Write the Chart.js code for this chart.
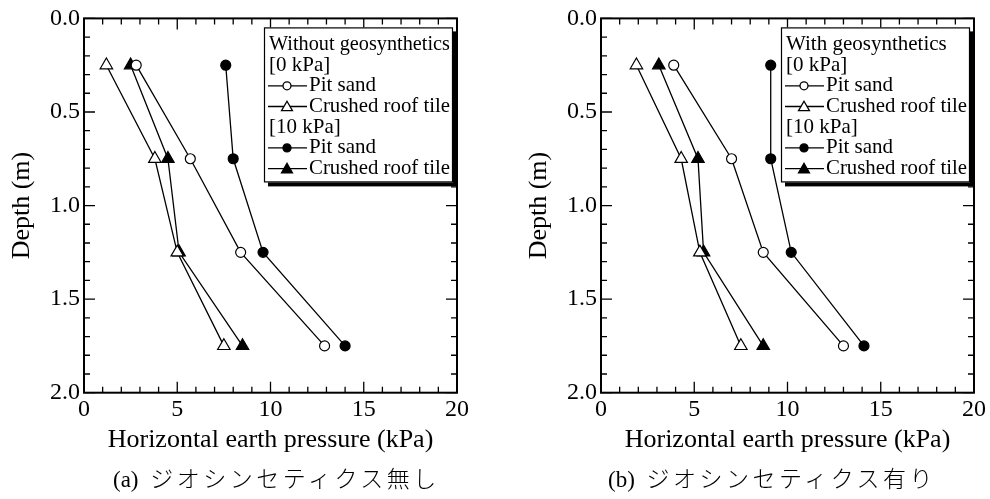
<!DOCTYPE html>
<html lang="ja">
<head>
<meta charset="UTF-8">
<title>Horizontal earth pressure vs depth</title>
<script src="https://cdn.jsdelivr.net/npm/chart.js@4"></script>
<style>
    body { margin: 0; background: #fff; }
    #page { position: relative; width: 990px; height: 499px; overflow: hidden; }
    .panel { position: absolute; top: 0; }
    .caption {
        position: absolute;
        top: 464px;
        font-family: "Liberation Serif", serif;
        font-size: 23px;
        line-height: 26px;
        white-space: nowrap;
        color: #000;
    }
    .caption .jp {
        font-family: "Noto Sans CJK JP", sans-serif;
        font-weight: 300;
        font-size: 23px;
        letter-spacing: 3.5px;
        margin-left: 6px;
    }
</style>
</head>
<body>
<div id="page">
    <canvas id="chartA" class="panel" width="473" height="499" style="left:0"></canvas>
    <canvas id="chartB" class="panel" width="473" height="499" style="left:517px"></canvas>
    <div class="caption" style="left:113px">(a) <span class="jp">ジオシンセティクス無し</span></div>
    <div class="caption" style="left:608px">(b) <span class="jp">ジオシンセティクス有り</span></div>
</div>
<script>
// depths of the measuring points (m)
const depths = [0.25, 0.75, 1.25, 1.75];

// horizontal earth pressure (kPa) - without geosynthetics
const noGeoPit0 = [2.8, 5.7, 8.4, 12.9];
const noGeoTile0 = [1.2, 3.8, 5.0, 7.5];
const noGeoPit10 = [7.6, 8.0, 9.6, 14.0];
const noGeoTile10 = [2.5, 4.5, 5.1, 8.5];

// with geosynthetics
const geoPit0 = [3.9, 7.0, 8.7, 13.0];
const geoTile0 = [1.9, 4.3, 5.3, 7.5];
const geoPit10 = [9.1, 9.1, 10.2, 14.1];
const geoTile10 = [3.1, 5.2, 5.5, 8.7];

const materials = ['Pit sand', 'Crushed roof tile'];
const loads = ['[0 kPa]', '[10 kPa]'];
const xRange = [0, 20], xStep = 5, xMinor = 1;
const yRange = [0, 2], yStep = 0.5, yMinor = 0.1;

Chart.defaults.font.family = "'Liberation Serif', 'Times New Roman', serif";
Chart.defaults.color = '#000';

function pts(xs) {
    return xs.map((v, i) => ({ x: v, y: depths[i] }));
}

function series(label, xs, shape, filled) {
    return {
        label: label,
        data: pts(xs),
        showLine: true,
        borderColor: '#000',
        borderWidth: 1.3,
        pointStyle: shape,
        pointRadius: shape === 'circle' ? 5 : 7.2,
        pointBorderWidth: 1.2,
        pointBorderColor: '#000',
        pointBackgroundColor: filled ? '#000' : '#fff'
    };
}

// frame + inward ticks on all four sides
const framePlugin = {
    id: 'frame',
    afterDatasetsDraw(chart) {
        const { ctx, chartArea: a, scales: { x, y } } = chart;
        ctx.save();
        ctx.strokeStyle = '#000';
        ctx.lineWidth = 1.3;
        ctx.beginPath();
        const nx = Math.round((xRange[1] - xRange[0]) / xMinor);
        for (let i = 0; i <= nx; i++) {
            const v = xRange[0] + i * xMinor;
            const px = x.getPixelForValue(v);
            const len = i % Math.round(xStep / xMinor) === 0 ? 11 : 6;
            ctx.moveTo(px, a.bottom); ctx.lineTo(px, a.bottom - len);
            ctx.moveTo(px, a.top); ctx.lineTo(px, a.top + len);
        }
        const ny = Math.round((yRange[1] - yRange[0]) / yMinor);
        for (let i = 0; i <= ny; i++) {
            const v = yRange[0] + i * yMinor;
            const py = y.getPixelForValue(v);
            const len = i % Math.round(yStep / yMinor) === 0 ? 11 : 6;
            ctx.moveTo(a.left, py); ctx.lineTo(a.left + len, py);
            ctx.moveTo(a.right, py); ctx.lineTo(a.right - len, py);
        }
        ctx.stroke();
        ctx.lineWidth = 2;
        ctx.strokeRect(a.left, a.top, a.right - a.left, a.bottom - a.top);
        ctx.restore();
    }
};

function marker(ctx, shape, filled, x, y, r) {
    ctx.beginPath();
    if (shape === 'circle') {
        ctx.arc(x, y, r, 0, Math.PI * 2);
    } else {
        ctx.moveTo(x, y - r);
        ctx.lineTo(x + r * Math.sin(Math.PI / 3), y + r / 2);
        ctx.lineTo(x - r * Math.sin(Math.PI / 3), y + r / 2);
        ctx.closePath();
    }
    ctx.fillStyle = filled ? '#000' : '#fff';
    ctx.fill();
    ctx.stroke();
}

// boxed legend with drop shadow, inside the plot
const boxLegend = {
    id: 'boxLegend',
    afterDraw(chart, args, opts) {
        const { ctx, chartArea: a } = chart;
        const left = a.left + 180, top = a.top + 9;
        const right = a.right - 4, bottom = a.top + 164;
        ctx.save();
        ctx.fillStyle = '#000';
        ctx.fillRect(left + 4, top + 4, right - left, bottom - top);
        ctx.fillStyle = '#fff';
        ctx.fillRect(left, top, right - left, bottom - top);
        ctx.strokeStyle = '#000';
        ctx.lineWidth = 1.2;
        ctx.strokeRect(left + 0.5, top + 0.5, right - left - 1, bottom - top - 1);

        ctx.font = "21px 'Liberation Serif'";
        ctx.textBaseline = 'middle';
        const step = 20.7;
        let row = top + 17;
        const ds = chart.data.datasets;
        const rows = [
            { text: opts.title },
            { text: loads[0] }, { ds: ds[0] }, { ds: ds[1] },
            { text: loads[1] }, { ds: ds[2] }, { ds: ds[3] }
        ];
        rows.forEach(r => {
            ctx.fillStyle = '#000';
            if (r.text) {
                ctx.fillText(r.text, left + 5, row, right - left - 8);
            } else {
                ctx.lineWidth = 1.3;
                ctx.beginPath();
                ctx.moveTo(left + 4, row);
                ctx.lineTo(left + 43, row);
                ctx.stroke();
                const isCircle = r.ds.pointStyle === 'circle';
                marker(ctx, r.ds.pointStyle, r.ds.pointBackgroundColor === '#000',
                       left + 23, row + (isCircle ? 0 : 1), isCircle ? 4 : 6.3);
                ctx.fillStyle = '#000';
                ctx.fillText(r.ds.label, left + 45, row, right - left - 48);
            }
            row += step;
        });
        ctx.restore();
    }
};

function makeChart(id, title, pit0, tile0, pit10, tile10) {
    return new Chart(document.getElementById(id), {
        type: 'scatter',
        data: {
            datasets: [
                series(materials[0], pit0, 'circle', false),
                series(materials[1], tile0, 'triangle', false),
                series(materials[0], pit10, 'circle', true),
                series(materials[1], tile10, 'triangle', true)
            ]
        },
        options: {
            responsive: false,
            animation: false,
            layout: { padding: { left: 0, right: 16, top: 18, bottom: 0 } },
            plugins: {
                legend: { display: false },
                tooltip: { enabled: false },
                boxLegend: { title: title }
            },
            scales: {
                x: {
                    type: 'linear',
                    min: xRange[0], max: xRange[1],
                    ticks: { stepSize: xStep, padding: 3, maxRotation: 0, font: { size: 24 } },
                    grid: { display: false, drawTicks: false },
                    border: { display: false },
                    title: {
                        display: true,
                        text: 'Horizontal earth pressure (kPa)',
                        font: { size: 26 },
                        padding: { top: 0, bottom: 43 }
                    },
                    afterFit: s => { s.height = 106.3; }
                },
                y: {
                    type: 'linear',
                    reverse: true,
                    min: yRange[0], max: yRange[1],
                    ticks: { stepSize: yStep, padding: 4, font: { size: 24 }, callback: v => v.toFixed(1) },
                    grid: { display: false, drawTicks: false },
                    border: { display: false },
                    title: {
                        display: true,
                        text: 'Depth (m)',
                        font: { size: 26 },
                        padding: { top: 7, bottom: 0 }
                    },
                    afterFit: s => { s.width = 84; }
                }
            }
        },
        plugins: [framePlugin, boxLegend]
    });
}

makeChart('chartA', 'Without geosynthetics', noGeoPit0, noGeoTile0, noGeoPit10, noGeoTile10);
makeChart('chartB', 'With geosynthetics', geoPit0, geoTile0, geoPit10, geoTile10);
</script>
</body>
</html>
